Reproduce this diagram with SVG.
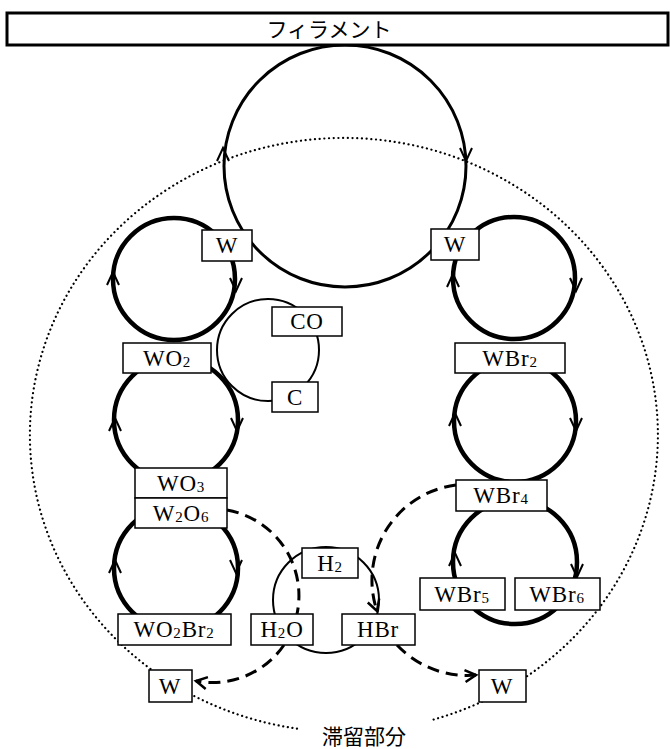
<svg xmlns="http://www.w3.org/2000/svg" xmlns:xlink="http://www.w3.org/1999/xlink" width="670" height="749" viewBox="0 0 670 749">
<style>
.box{fill:#fff;stroke:#000;stroke-width:1.5}
.lbl{font-family:"Liberation Serif","DejaVu Serif",serif;font-size:23px;fill:#000;text-anchor:middle;letter-spacing:0.8px}
.sub{font-size:15px}
.jp{font-family:"Noto Sans CJK JP","Noto Sans",sans-serif;font-size:21px;fill:#000;text-anchor:middle}
.thick{fill:none;stroke:#000;stroke-width:4.5}
.mid{fill:none;stroke:#000;stroke-width:3}
.thin{fill:none;stroke:#000;stroke-width:2}
.dash{fill:none;stroke:#000;stroke-width:3;stroke-dasharray:12 7}
.dot{fill:none;stroke:#000;stroke-width:2.2;stroke-dasharray:0.1 4.6;stroke-linecap:round}
.arr{fill:none;stroke:#000;stroke-width:2;stroke-linejoin:miter}
</style>
<defs>
<path id="au" class="arr" d="M-6,13 L0,0 L6,13"/>
<path id="ad" class="arr" d="M-6,-13 L0,0 L6,-13"/>
<marker id="open" markerUnits="userSpaceOnUse" markerWidth="16" markerHeight="16" viewBox="-13 -8 16 16" refX="0" refY="0" orient="auto">
<path d="M-11,-6 L0,0 L-11,6" fill="none" stroke="#000" stroke-width="2.5"/>
</marker>
</defs>
<rect width="670" height="749" fill="#fff"/>

<g id="stagnant-region">
<path class="dot" d="M297,728.6 A314,297 0 1 1 432,720"/>
<text class="jp" x="364" y="744" font-size="22">滞留部分</text>
</g>

<g id="connectors">
<circle class="mid" cx="345" cy="166" r="121"/>
<circle class="thick" cx="174" cy="279" r="61"/>
<circle class="thick" cx="176" cy="420" r="62"/>
<circle class="thick" cx="176" cy="568" r="62"/>
<circle class="thick" cx="514" cy="278" r="61"/>
<circle class="thick" cx="515" cy="421" r="61"/>
<circle class="thick" cx="515" cy="562" r="62"/>
<circle class="thin" cx="268" cy="350" r="51"/>
<circle class="thin" cx="326" cy="600" r="53"/>
<path class="dash" d="M227,510 A87,87 0 0 1 297,614"/>
<path class="dash" d="M284,645 A87,87 0 0 1 196,681" marker-end="url(#open)"/>
<path class="dash" d="M456,485 A96,96 0 0 0 377,611" marker-end="url(#open)"/>
<path class="dash" d="M397,645 A96,96 0 0 0 476,675" marker-end="url(#open)"/>
<use href="#au" x="223" y="148"/>
<use href="#ad" x="466" y="161"/>
<use href="#au" x="113" y="272"/>
<use href="#ad" x="236" y="291"/>
<use href="#au" x="115" y="418"/>
<use href="#ad" x="237" y="431"/>
<use href="#au" x="115" y="560"/>
<use href="#ad" x="236" y="573"/>
<use href="#au" x="453" y="274"/>
<use href="#ad" x="576" y="291"/>
<use href="#au" x="455" y="413"/>
<use href="#ad" x="576" y="431"/>
<use href="#au" x="455" y="553"/>
<use href="#ad" x="577" y="577"/>
</g>

<g id="filament">
<rect x="7" y="13" width="661" height="32" fill="#fff" stroke="#000" stroke-width="3"/>
<text class="jp" x="329" y="37">フィラメント</text>
</g>

<g id="W-top-left"><rect class="box" x="202" y="230" width="50" height="31"/><text class="lbl" x="227" y="253">W</text></g>
<g id="W-top-right"><rect class="box" x="431" y="229" width="48" height="31"/><text class="lbl" x="455" y="252">W</text></g>
<g id="CO"><rect class="box" x="272" y="307" width="70" height="29"/><text class="lbl" x="307" y="329">CO</text></g>
<g id="C"><rect class="box" x="272" y="382" width="46" height="30"/><text class="lbl" x="295" y="405">C</text></g>
<g id="WO2"><rect class="box" x="123" y="343" width="88" height="30"/><text class="lbl" x="167" y="366">WO<tspan class="sub" dy="1">2</tspan></text></g>
<g id="WBr2"><rect class="box" x="455" y="343" width="110" height="30"/><text class="lbl" x="510" y="366">WBr<tspan class="sub" dy="1">2</tspan></text></g>
<g id="WO3"><rect class="box" x="135" y="468" width="92" height="30"/><text class="lbl" x="181" y="491">WO<tspan class="sub" dy="1">3</tspan></text></g>
<g id="W2O6"><rect class="box" x="135" y="498" width="92" height="30"/><text class="lbl" x="181" y="521">W<tspan class="sub" dy="1">2</tspan><tspan dy="-1">O</tspan><tspan class="sub" dy="1">6</tspan></text></g>
<g id="WBr4"><rect class="box" x="456" y="480" width="91" height="31"/><text class="lbl" x="501" y="503">WBr<tspan class="sub" dy="1">4</tspan></text></g>
<g id="H2"><rect class="box" x="302" y="548" width="56" height="30"/><text class="lbl" x="330" y="571">H<tspan class="sub" dy="1">2</tspan></text></g>
<g id="WBr5"><rect class="box" x="420" y="578" width="85" height="32"/><text class="lbl" x="462" y="602">WBr<tspan class="sub" dy="1">5</tspan></text></g>
<g id="WBr6"><rect class="box" x="515" y="578" width="85" height="32"/><text class="lbl" x="557" y="602">WBr<tspan class="sub" dy="1">6</tspan></text></g>
<g id="WO2Br2"><rect class="box" x="118" y="614" width="113" height="31"/><text class="lbl" x="174" y="637">WO<tspan class="sub" dy="1">2</tspan><tspan dy="-1">Br</tspan><tspan class="sub" dy="1">2</tspan></text></g>
<g id="H2O"><rect class="box" x="251" y="614" width="62" height="31"/><text class="lbl" x="282" y="637">H<tspan class="sub" dy="1">2</tspan><tspan dy="-1">O</tspan></text></g>
<g id="HBr"><rect class="box" x="342" y="614" width="73" height="31"/><text class="lbl" x="378" y="637">HBr</text></g>
<g id="W-bottom-left"><rect class="box" x="149" y="670" width="43" height="32"/><text class="lbl" x="170" y="694">W</text></g>
<g id="W-bottom-right"><rect class="box" x="479" y="670" width="47" height="32"/><text class="lbl" x="502" y="694">W</text></g>
</svg>
